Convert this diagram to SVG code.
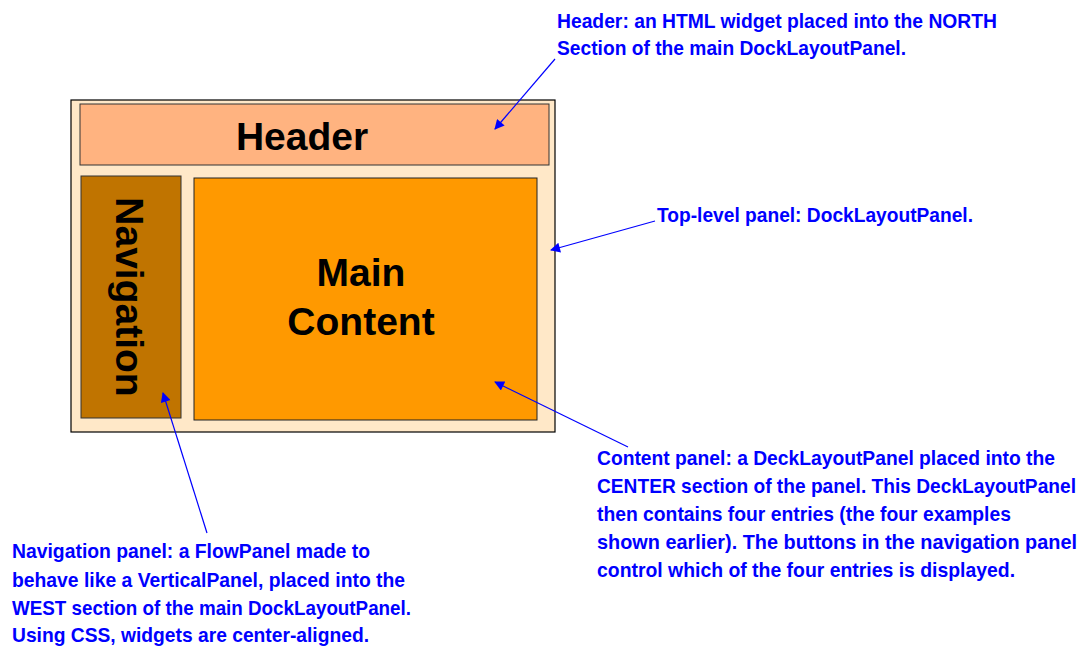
<svg xmlns="http://www.w3.org/2000/svg" width="1087" height="650" viewBox="0 0 1087 650">
<style>
.big{font-family:"Liberation Sans",Arial,sans-serif;font-weight:bold;font-size:39px;fill:#000;text-anchor:middle}
.note{font-family:"Liberation Sans Narrow","Liberation Sans",Arial,sans-serif;font-weight:bold;font-size:21px;fill:#0000FF}
.conn{stroke:#0000FF;stroke-width:1.2;fill:none;marker-end:url(#ah)}
</style>
<defs>
<marker id="ah" viewBox="0 0 10 10" refX="9" refY="5" markerWidth="12" markerHeight="10" markerUnits="userSpaceOnUse" orient="auto">
<path d="M0,0 L10,5 L0,10 z" fill="#0000FF"/>
</marker>
</defs>
<rect width="1087" height="650" fill="#fff"/>
<g id="toplevel"><rect x="71" y="100" width="484" height="332" fill="#FFE8C8" stroke="#000" stroke-width="1.2"/></g>
<g id="header"><rect x="80" y="104" width="469" height="61" fill="#FFB380" stroke="#333" stroke-width="1"/><text class="big" x="302" y="150">Header</text></g>
<g id="navigation"><rect x="81" y="176" width="100" height="242" fill="#C07400" stroke="#333" stroke-width="1"/><text class="big" transform="translate(116,297) rotate(90)">Navigation</text></g>
<g id="content"><rect x="194" y="178" width="343" height="242" fill="#FF9900" stroke="#222" stroke-width="1"/><text class="big" x="361" y="286">Main</text><text class="big" x="361" y="335">Content</text></g>
<g id="connectors">
<line class="conn" x1="555" y1="59" x2="495" y2="129"/>
<line class="conn" x1="655" y1="221" x2="551" y2="250"/>
<line class="conn" x1="628" y1="447" x2="495" y2="382"/>
<line class="conn" x1="207" y1="533" x2="163" y2="393"/>
</g>
<g id="note-header" transform="translate(557,0) scale(0.85,1)"><text class="note"><tspan x="0" y="28" textLength="517.6" lengthAdjust="spacingAndGlyphs">Header: an HTML widget placed into the NORTH</tspan><tspan x="0" y="55" textLength="410.6" lengthAdjust="spacingAndGlyphs">Section of the main DockLayoutPanel.</tspan></text></g>
<g id="note-top" transform="translate(657,0) scale(0.85,1)"><text class="note"><tspan x="0" y="222" textLength="371.8" lengthAdjust="spacingAndGlyphs">Top-level panel: DockLayoutPanel.</tspan></text></g>
<g id="note-content" transform="translate(597,0) scale(0.85,1)"><text class="note"><tspan x="0" y="465" textLength="538.8" lengthAdjust="spacingAndGlyphs">Content panel: a DeckLayoutPanel placed into the</tspan><tspan x="0" y="493" textLength="563.5" lengthAdjust="spacingAndGlyphs">CENTER section of the panel. This DeckLayoutPanel</tspan><tspan x="0" y="521" textLength="487" lengthAdjust="spacingAndGlyphs">then contains four entries (the four examples</tspan><tspan x="0" y="549" textLength="564.7" lengthAdjust="spacingAndGlyphs">shown earlier). The buttons in the navigation panel</tspan><tspan x="0" y="577" textLength="491.8" lengthAdjust="spacingAndGlyphs">control which of the four entries is displayed.</tspan></text></g>
<g id="note-nav" transform="translate(12,0) scale(0.85,1)"><text class="note"><tspan x="0" y="558" textLength="421.2" lengthAdjust="spacingAndGlyphs">Navigation panel: a FlowPanel made to</tspan><tspan x="0" y="587" textLength="462.4" lengthAdjust="spacingAndGlyphs">behave like a VerticalPanel, placed into the</tspan><tspan x="0" y="615" textLength="469.4" lengthAdjust="spacingAndGlyphs">WEST section of the main DockLayoutPanel.</tspan><tspan x="0" y="642" textLength="420" lengthAdjust="spacingAndGlyphs">Using CSS, widgets are center-aligned.</tspan></text></g>
</svg>
